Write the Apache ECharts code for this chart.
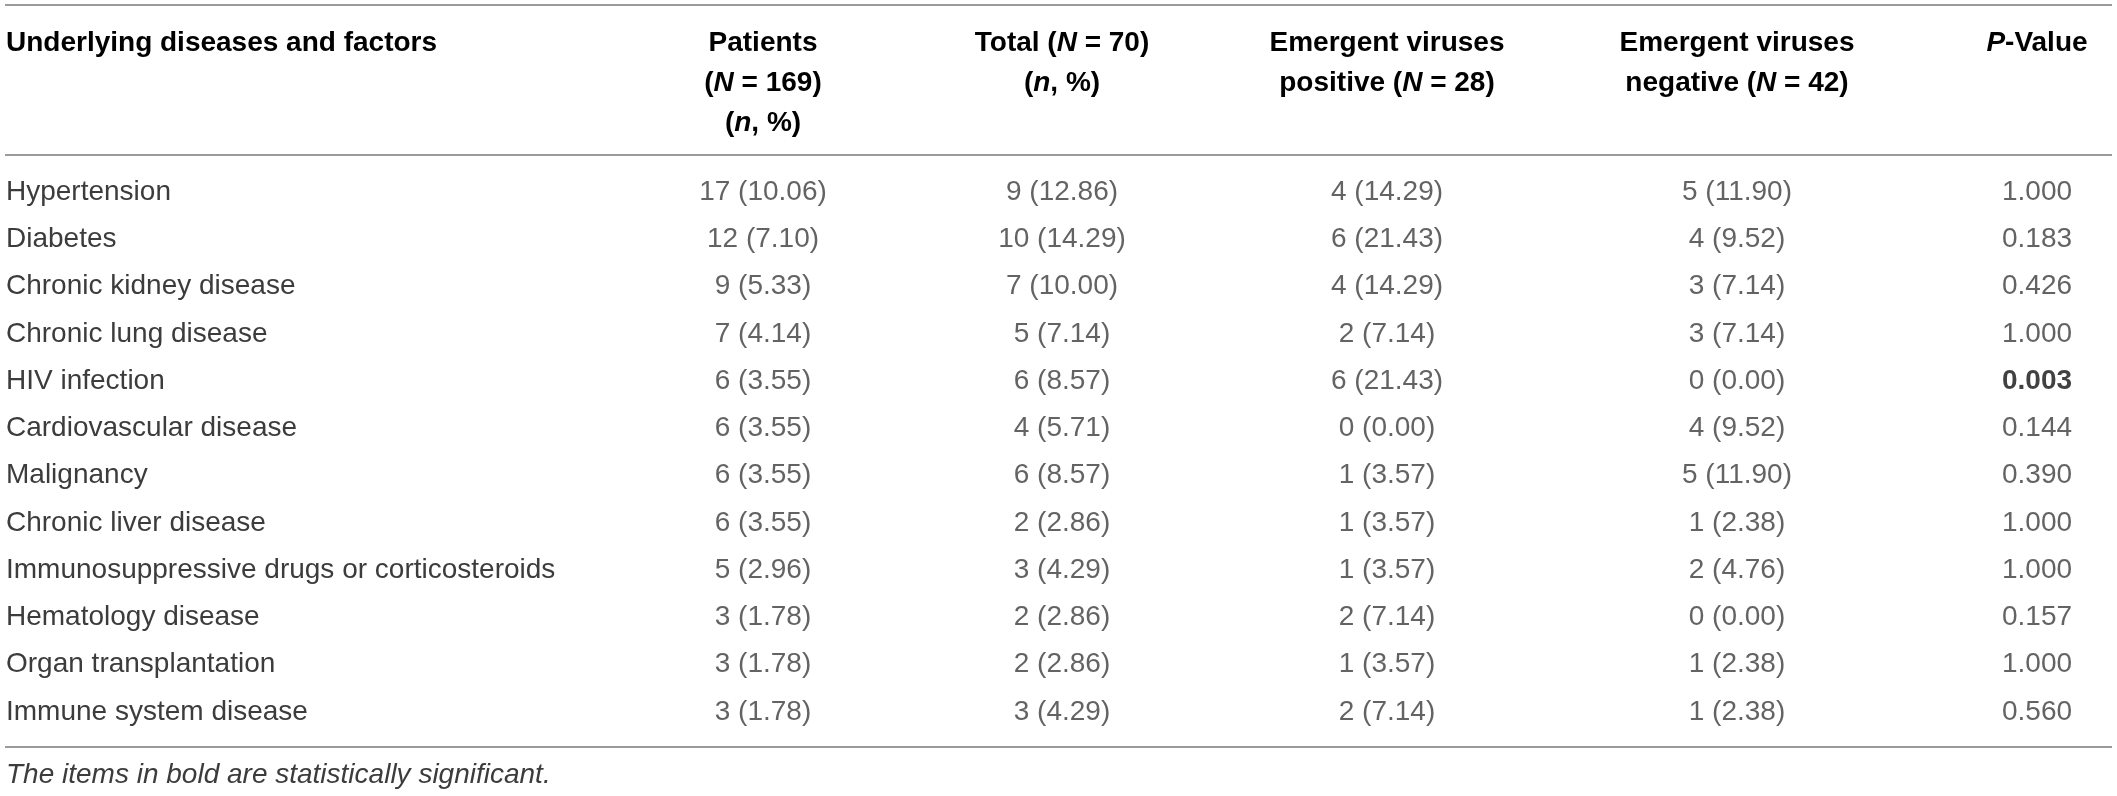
<!DOCTYPE html>
<html>
<head>
<meta charset="utf-8">
<script src="https://cdn.jsdelivr.net/npm/echarts@6/dist/echarts.min.js"></script>
<style>
  html, body { margin: 0; padding: 0; background: #fff; }
  #table { width: 2117px; height: 796px; }
</style>
</head>
<body>
<div id="table"></div>
<script>
// rows of the table
var factors = ['Hypertension', 'Diabetes', 'Chronic kidney disease', 'Chronic lung disease',
    'HIV infection', 'Cardiovascular disease', 'Malignancy', 'Chronic liver disease',
    'Immunosuppressive drugs or corticosteroids', 'Hematology disease',
    'Organ transplantation', 'Immune system disease'];

// n and % per group
var patientsN = [17, 12, 9, 7, 6, 6, 6, 6, 5, 3, 3, 3];
var patientsPct = [10.06, 7.10, 5.33, 4.14, 3.55, 3.55, 3.55, 3.55, 2.96, 1.78, 1.78, 1.78];
var totalN = [9, 10, 7, 5, 6, 4, 6, 2, 3, 2, 2, 3];
var totalPct = [12.86, 14.29, 10.00, 7.14, 8.57, 5.71, 8.57, 2.86, 4.29, 2.86, 2.86, 4.29];
var positiveN = [4, 6, 4, 2, 6, 0, 1, 1, 1, 2, 1, 2];
var positivePct = [14.29, 21.43, 14.29, 7.14, 21.43, 0.00, 3.57, 3.57, 3.57, 7.14, 3.57, 7.14];
var negativeN = [5, 4, 3, 3, 0, 4, 5, 1, 2, 0, 1, 1];
var negativePct = [11.90, 9.52, 7.14, 7.14, 0.00, 9.52, 11.90, 2.38, 4.76, 0.00, 2.38, 2.38];
var pValues = [1.000, 0.183, 0.426, 1.000, 0.003, 0.144, 0.390, 1.000, 1.000, 0.157, 1.000, 0.560];

var footnote = 'The items in bold are statistically significant.';

// layout (pixel centres of the columns, x axis runs 0..2117)
var FONT = '"Liberation Sans", "Helvetica Neue", Arial, sans-serif';
var colX = [763, 1062, 1387, 1737, 2037];
var ruleColor = '#9a9a9a';
var bodyColor = '#3c3c3c';

function cellSeries(x, texts, bold) {
    return {
        type: 'scatter',
        symbolSize: 1,
        itemStyle: { color: 'rgba(0,0,0,0)' },
        silent: true,
        emphasis: { disabled: true },
        data: texts.map(function(t, i) {
            var item = { value: [x, i], text: t };
            if (bold && bold[i]) item.label = { fontWeight: 'bold', color: '#111' };
            return item;
        }),
        label: {
            show: true,
            position: 'inside',
            align: 'center',
            verticalAlign: 'middle',
            fontFamily: FONT,
            fontSize: 28,
            color: bodyColor,
            formatter: function(p) { return p.data.text; }
        }
    };
}

function pair(ns, pcts) {
    return ns.map(function(n, i) { return n + ' (' + pcts[i].toFixed(2) + ')'; });
}

var headRich = {
    b: { fontFamily: FONT, fontSize: 28, fontWeight: 'bold', color: '#1a1a1a', lineHeight: 40 },
    bi: { fontFamily: FONT, fontSize: 28, fontWeight: 'bold', fontStyle: 'italic', color: '#1a1a1a', lineHeight: 40 }
};

function headText(text, x, align) {
    return {
        type: 'text',
        silent: true,
        style: { text: text, x: x, y: 23, align: align || 'center', verticalAlign: 'top', rich: headRich }
    };
}

function rule(y) {
    return {
        type: 'line',
        silent: true,
        shape: { x1: 5, y1: y, x2: 2112, y2: y },
        style: { stroke: ruleColor, lineWidth: 2 }
    };
}

var option = {
    animation: false,
    grid: { left: 0, right: 0, top: 168.4, bottom: 60.4 },
    xAxis: { type: 'value', min: 0, max: 2117, show: false },
    yAxis: {
        type: 'category',
        inverse: true,
        data: factors,
        axisLine: { show: false },
        axisTick: { show: false },
        splitLine: { show: false },
        axisLabel: {
            align: 'left',
            margin: -6,
            fontFamily: FONT,
            fontSize: 28,
            color: bodyColor
        }
    },
    series: [
        cellSeries(colX[0], pair(patientsN, patientsPct)),
        cellSeries(colX[1], pair(totalN, totalPct)),
        cellSeries(colX[2], pair(positiveN, positivePct)),
        cellSeries(colX[3], pair(negativeN, negativePct)),
        cellSeries(colX[4], pValues.map(function(p) { return p.toFixed(3); }),
            pValues.map(function(p) { return p < 0.05; }))
    ],
    graphic: [
        rule(5), rule(155), rule(747),
        headText('{b|Underlying diseases and factors}', 6, 'left'),
        headText('{b|Patients}\n{b|(}{bi|N}{b| = 169)}\n{b|(}{bi|n}{b|, %)}', colX[0]),
        headText('{b|Total (}{bi|N}{b| = 70)}\n{b|(}{bi|n}{b|, %)}', colX[1]),
        headText('{b|Emergent viruses}\n{b|positive (}{bi|N}{b| = 28)}', colX[2]),
        headText('{b|Emergent viruses}\n{b|negative (}{bi|N}{b| = 42)}', colX[3]),
        headText('{bi|P}{b|-Value}', colX[4]),
        {
            type: 'text',
            silent: true,
            style: {
                text: footnote, x: 6, y: 775, align: 'left', verticalAlign: 'middle',
                fontFamily: FONT, fontSize: 28, fontStyle: 'italic', fill: bodyColor
            }
        }
    ]
};

var myChart = echarts.init(document.getElementById('table'));
myChart.setOption(option);
</script>
</body>
</html>
